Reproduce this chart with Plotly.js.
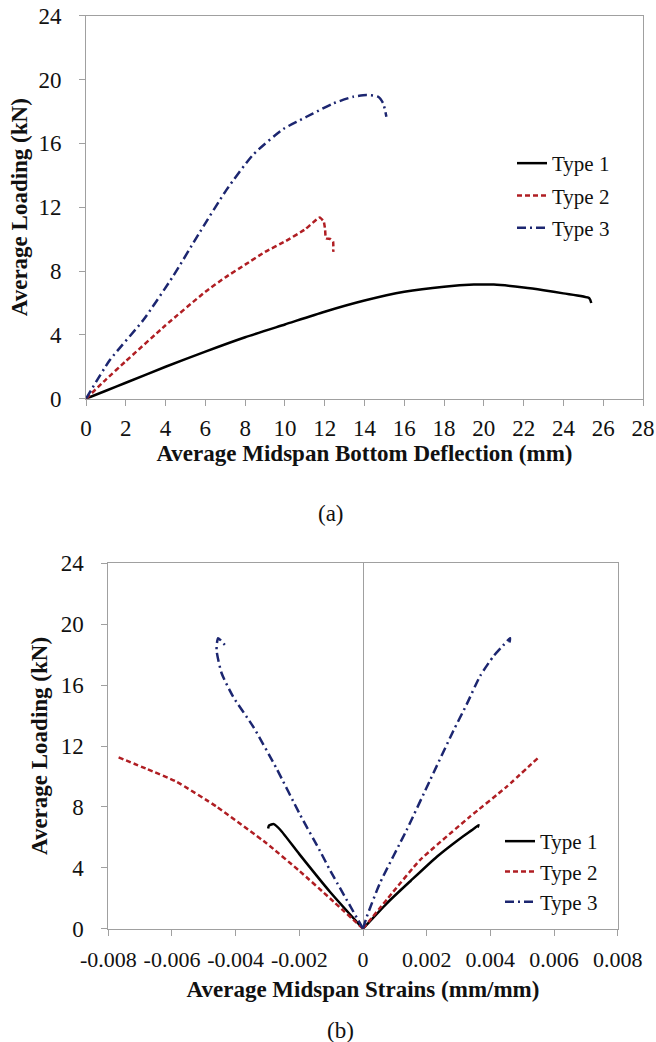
<!DOCTYPE html>
<html>
<head>
<meta charset="utf-8">
<script src="https://cdn.plot.ly/plotly-3.0.1.min.js"></script>
<style>html,body{margin:0;padding:0;background:#fff;}#chart{width:656px;height:1042px;}</style>
</head>
<body>
<div id="chart"></div>
<script>
// ---- Chart (a): load vs deflection ----
const seriesNames = ['Type 1', 'Type 2', 'Type 3'];
const defl1 = [0, 1, 2, 4, 6, 8, 10, 12, 14, 16, 18, 19.5, 20.5, 22, 23, 24, 25.3, 25.4];
const load1 = [0, 0.5, 1.0, 2.0, 2.95, 3.85, 4.65, 5.45, 6.15, 6.7, 7.02, 7.15, 7.15, 6.97, 6.8, 6.6, 6.3, 6.0];
const defl2 = [0, 1, 2, 4, 6, 7, 8, 9, 10, 11, 11.75, 11.95, 12.02, 12.06, 12.3, 12.42, 12.43];
const load2 = [0, 1.2, 2.35, 4.6, 6.7, 7.6, 8.4, 9.2, 9.85, 10.6, 11.36, 11.1, 10.6, 10.05, 10.0, 9.85, 9.2];
const defl3 = [0, 1.2, 2.88, 4.39, 5.73, 7.07, 8.41, 9.92, 10.75, 11.42, 12.43, 13.43, 14.1, 14.69, 14.94, 15.1];
const load3 = [0, 2.42, 4.93, 7.7, 10.45, 13.1, 15.3, 16.9, 17.45, 17.88, 18.5, 18.92, 19.03, 18.92, 18.5, 17.67];

// ---- Chart (b): load vs strain (compression branch negative, tension positive) ----
const strain1T = [0, 0.00075, 0.0015, 0.00232, 0.003, 0.0035, 0.00363, 0.0036];
const load1T   = [0, 1.67, 3.15, 4.73, 5.85, 6.6, 6.81, 6.65];
const strain1C = [0, -0.00104, -0.002, -0.0026, -0.0028, -0.00295, -0.00298];
const load1C   = [0, 2.43, 4.9, 6.5, 6.87, 6.78, 6.58];
const strain2T = [0, 0.0009, 0.00179, 0.00336, 0.0045, 0.00554];
const load2T   = [0, 2.3, 4.51, 7.36, 9.3, 11.3];
const strain2C = [0, -0.00104, -0.002, -0.00303, -0.0046, -0.00586, -0.0068, -0.00773];
const load2C   = [0, 2.0, 3.8, 5.61, 8.02, 9.66, 10.5, 11.3];
const strain3T = [0, 0.00012, 0.00053, 0.00137, 0.00211, 0.00284, 0.00326, 0.00368, 0.0041, 0.0044, 0.00462, 0.00457];
const load3T   = [0, 0.79, 2.98, 6.48, 9.77, 13.0, 14.75, 16.6, 17.9, 18.6, 19.08, 18.53];
const strain3C = [0, -0.00104, -0.00135, -0.00198, -0.00271, -0.00345, -0.00408, -0.00444, -0.0046, -0.00455, -0.00434];
const load3C   = [0, 3.86, 5.1, 7.5, 10.5, 13.27, 15.24, 16.78, 18.31, 19.08, 18.64];

const strainTickVals = [-0.008, -0.006, -0.004, -0.002, 0, 0.002, 0.004, 0.006, 0.008];
const strainTickText = ['-0.008', '-0.006', '-0.004', '-0.002', '0', '0.002', '0.004', '0.006', '0.008'];

const titleA_x = 'Average Midspan Bottom Deflection (mm)';
const titleB_x = 'Average Midspan Strains (mm/mm)';
const titleY = 'Average Loading (kN)';
const panelLabels = ['(a)', '(b)'];

// ---- styles ----
const FONT = 'Liberation Serif';
const styles = [
  {color: '#000000', width: 2.5, dash: 'solid', shape: 'spline', smoothing: 0.6},
  {color: '#B01E23', width: 2.5, dash: '5px,3px', shape: 'spline', smoothing: 0.4},
  {color: '#1C2670', width: 2.5, dash: '9px,4px,2px,4px', shape: 'spline', smoothing: 0.6}
];

const traces = [];
const topX = [defl1, defl2, defl3], topY = [load1, load2, load3];
for (let i = 0; i < 3; i++) {
  traces.push({x: topX[i], y: topY[i], type: 'scatter', mode: 'lines', name: seriesNames[i],
    line: styles[i], xaxis: 'x', yaxis: 'y', legend: 'legend', legendgroup: 'a' + i});
}
const botT = [[strain1T, load1T], [strain2T, load2T], [strain3T, load3T]];
const botC = [[strain1C, load1C], [strain2C, load2C], [strain3C, load3C]];
for (let i = 0; i < 3; i++) {
  traces.push({x: botT[i][0], y: botT[i][1], type: 'scatter', mode: 'lines', name: seriesNames[i],
    line: styles[i], xaxis: 'x2', yaxis: 'y2', legend: 'legend2', legendgroup: 'b' + i});
  traces.push({x: botC[i][0], y: botC[i][1], type: 'scatter', mode: 'lines', name: seriesNames[i],
    line: styles[i], xaxis: 'x2', yaxis: 'y2', legend: 'legend2', legendgroup: 'b' + i, showlegend: false});
}

const axisCommon = {
  showgrid: false, showline: true, linecolor: '#A0A0A0', linewidth: 1, mirror: true,
  ticks: 'outside', ticklen: 6, tickcolor: '#A0A0A0', tickwidth: 1,
  tickfont: {family: FONT, size: 23, color: '#111'}, zeroline: false, fixedrange: true
};
const titleFont = {family: FONT, size: 23, color: '#111', weight: 'bold'};

const W = 656, H = 1042;
const layout = {
  width: W, height: H,
  margin: {l: 0, r: 0, t: 0, b: 0},
  paper_bgcolor: '#fff', plot_bgcolor: '#fff',
  font: {family: FONT, color: '#111'},
  xaxis: Object.assign({}, axisCommon, {
    domain: [86 / W, 643 / W], range: [0, 28], dtick: 2, tick0: 0, anchor: 'y',
    ticklabelstandoff: 3,
    title: {text: titleA_x, font: titleFont, standoff: 0}
  }),
  yaxis: Object.assign({}, axisCommon, {
    domain: [1 - 398.7 / H, 1 - 15.7 / H], range: [0, 24], dtick: 4, tick0: 0, anchor: 'x',
    ticklabelstandoff: 13,
    title: {text: titleY, font: titleFont, standoff: 4}
  }),
  xaxis2: Object.assign({}, axisCommon, {
    domain: [108.3 / W, 617.7 / W], range: [-0.008, 0.008], anchor: 'y2',
    tickmode: 'array', tickvals: strainTickVals, ticktext: strainTickText,
    zeroline: true, zerolinecolor: '#A0A0A0', zerolinewidth: 1,
    tickfont: {family: FONT, size: 22, color: '#111'},
    ticklabelstandoff: 5,
    title: {text: titleB_x, font: titleFont, standoff: 9}
  }),
  yaxis2: Object.assign({}, axisCommon, {
    domain: [1 - 928.7 / H, 1 - 563.3 / H], range: [0, 24], dtick: 4, tick0: 0, anchor: 'x2',
    ticklabelstandoff: 13,
    title: {text: titleY, font: titleFont, standoff: 6}
  }),
  legend: {
    x: 512 / W, y: 1 - 143 / H, xanchor: 'left', yanchor: 'top',
    font: {family: FONT, size: 21, color: '#111'}, bgcolor: 'rgba(0,0,0,0)',
    traceorder: 'grouped', tracegroupgap: 2, itemwidth: 30
  },
  legend2: {
    x: 500 / W, y: 1 - 821 / H, xanchor: 'left', yanchor: 'top',
    font: {family: FONT, size: 21, color: '#111'}, bgcolor: 'rgba(0,0,0,0)',
    traceorder: 'grouped', tracegroupgap: 0, itemwidth: 30
  },
  annotations: [
    {text: panelLabels[0], xref: 'paper', yref: 'paper', x: 331 / W, y: 1 - 514 / H,
     xanchor: 'center', yanchor: 'middle', showarrow: false, font: {family: FONT, size: 23, color: '#111'}},
    {text: panelLabels[1], xref: 'paper', yref: 'paper', x: 340 / W, y: 1 - 1030 / H,
     xanchor: 'center', yanchor: 'middle', showarrow: false, font: {family: FONT, size: 23, color: '#111'}}
  ],
  showlegend: true
};

Plotly.newPlot('chart', traces, layout, {displayModeBar: false, staticPlot: true});
</script>
</body>
</html>
